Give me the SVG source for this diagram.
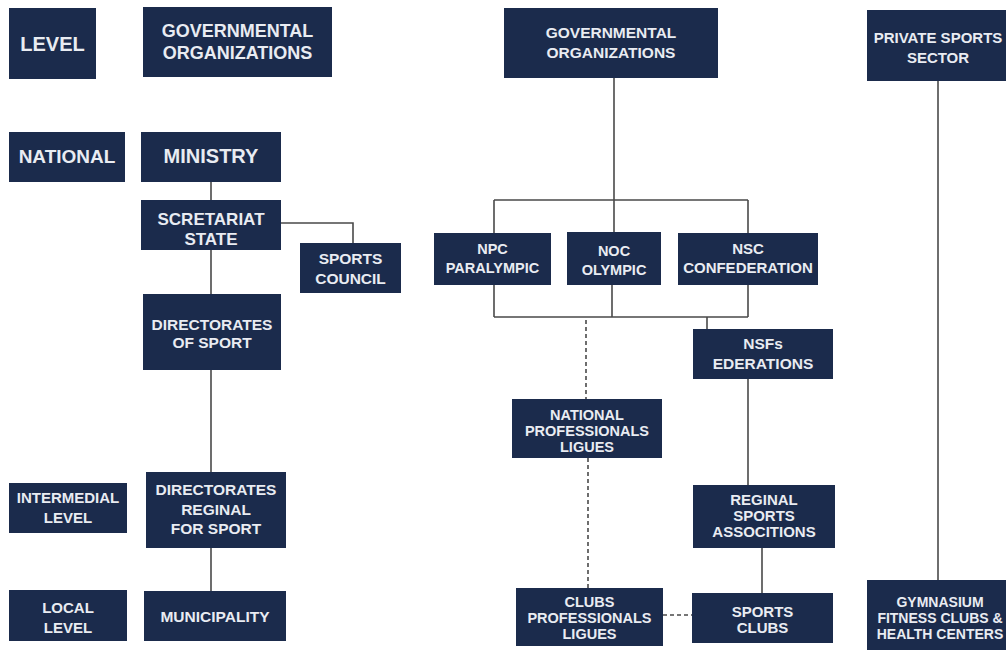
<svg xmlns="http://www.w3.org/2000/svg" width="1006" height="650" viewBox="0 0 1006 650">
<style>
.box{fill:#1b2b4c}
.t{fill:#e9ecf2;font-family:"Liberation Sans",Arial,sans-serif;font-weight:bold;text-anchor:middle}
.ln{stroke:#4a4a4a;stroke-width:1.6;fill:none}
.dl{stroke:#4a4a4a;stroke-width:1.6;fill:none;stroke-dasharray:4 3}
</style>
<rect width="1006" height="650" fill="#ffffff"/>
<g id="connectors">
<path class="ln" d="M211 182V200M211 250V294M211 370V472M211 548V591"/>
<path class="ln" d="M281 223H353V243"/>
<path class="ln" d="M614 78V200M494 200H748M494 200V233M614 200V232M748 200V233"/>
<path class="ln" d="M494 285V317M612 285V317M748 285V317M494 317H748M707 317V329"/>
<path class="ln" d="M748 379V485M762 548V593"/>
<path class="dl" d="M586 320V399M588 458V588M663 615H692"/>
<path class="ln" d="M938 81V580"/>
</g>
<g id="level"><rect class="box" x="9" y="8" width="87" height="71"/><text class="t" font-size="20" x="52.5" y="51">LEVEL</text></g>
<g id="gov-left"><rect class="box" x="143" y="7" width="189" height="70"/><text class="t" font-size="18" x="237.5" y="37">GOVERNMENTAL</text><text class="t" font-size="18" x="237.5" y="59">ORGANIZATIONS</text></g>
<g id="national"><rect class="box" x="9" y="132" width="116" height="50"/><text class="t" font-size="19" x="67" y="163">NATIONAL</text></g>
<g id="ministry"><rect class="box" x="141" y="132" width="140" height="50"/><text class="t" font-size="20" x="211" y="163">MINISTRY</text></g>
<g id="secretariat"><rect class="box" x="141" y="200" width="140" height="50"/><text class="t" font-size="17" x="211" y="225">SCRETARIAT</text><text class="t" font-size="17" x="211" y="245">STATE</text></g>
<g id="sports-council"><rect class="box" x="300" y="243" width="101" height="50"/><text class="t" font-size="15.5" x="350.5" y="264">SPORTS</text><text class="t" font-size="15.5" x="350.5" y="284">COUNCIL</text></g>
<g id="directorates"><rect class="box" x="143" y="294" width="138" height="76"/><text class="t" font-size="15.5" x="212" y="330">DIRECTORATES</text><text class="t" font-size="15.5" x="212" y="348">OF SPORT</text></g>
<g id="intermedial"><rect class="box" x="9" y="483" width="118" height="50"/><text class="t" font-size="15" x="68" y="503">INTERMEDIAL</text><text class="t" font-size="15" x="68" y="523">LEVEL</text></g>
<g id="directorates-reginal"><rect class="box" x="146" y="472" width="140" height="76"/><text class="t" font-size="15.5" x="216" y="495">DIRECTORATES</text><text class="t" font-size="15.5" x="216" y="515">REGINAL</text><text class="t" font-size="15.5" x="216" y="534">FOR SPORT</text></g>
<g id="local"><rect class="box" x="9" y="590" width="118" height="51"/><text class="t" font-size="15" x="68" y="613">LOCAL</text><text class="t" font-size="15" x="68" y="633">LEVEL</text></g>
<g id="municipality"><rect class="box" x="144" y="591" width="142" height="50"/><text class="t" font-size="15.5" x="215" y="622">MUNICIPALITY</text></g>
<g id="gov-mid"><rect class="box" x="504" y="8" width="214" height="70"/><text class="t" font-size="15.5" x="611" y="38">GOVERNMENTAL</text><text class="t" font-size="15.5" x="611" y="58">ORGANIZATIONS</text></g>
<g id="npc"><rect class="box" x="434" y="233" width="117" height="52"/><text class="t" font-size="14.5" x="492.5" y="254">NPC</text><text class="t" font-size="14.5" x="492.5" y="273">PARALYMPIC</text></g>
<g id="noc"><rect class="box" x="567" y="232" width="94" height="53"/><text class="t" font-size="14.5" x="614" y="256">NOC</text><text class="t" font-size="14.5" x="614" y="275">OLYMPIC</text></g>
<g id="nsc"><rect class="box" x="678" y="233" width="140" height="52"/><text class="t" font-size="15" x="748" y="254">NSC</text><text class="t" font-size="15" x="748" y="273">CONFEDERATION</text></g>
<g id="nsfs"><rect class="box" x="693" y="329" width="140" height="50"/><text class="t" font-size="15.5" x="763" y="349">NSFs</text><text class="t" font-size="15.5" x="763" y="369">EDERATIONS</text></g>
<g id="national-prof"><rect class="box" x="512" y="399" width="150" height="59"/><text class="t" font-size="14.5" x="587" y="420">NATIONAL</text><text class="t" font-size="14.5" x="587" y="436">PROFESSIONALS</text><text class="t" font-size="14.5" x="587" y="452">LIGUES</text></g>
<g id="reginal-sports"><rect class="box" x="693" y="485" width="142" height="63"/><text class="t" font-size="15" x="764" y="505">REGINAL</text><text class="t" font-size="15" x="764" y="521">SPORTS</text><text class="t" font-size="15" x="764" y="537">ASSOCITIONS</text></g>
<g id="clubs-prof"><rect class="box" x="516" y="588" width="147" height="58"/><text class="t" font-size="14.5" x="589.5" y="607">CLUBS</text><text class="t" font-size="14.5" x="589.5" y="623">PROFESSIONALS</text><text class="t" font-size="14.5" x="589.5" y="638.5">LIGUES</text></g>
<g id="sports-clubs"><rect class="box" x="692" y="593" width="141" height="50"/><text class="t" font-size="15" x="762.5" y="617">SPORTS</text><text class="t" font-size="15" x="762.5" y="633">CLUBS</text></g>
<g id="private"><rect class="box" x="867" y="10" width="145" height="71"/><text class="t" font-size="15" x="938" y="43">PRIVATE SPORTS</text><text class="t" font-size="15" x="938" y="63">SECTOR</text></g>
<g id="gymnasium"><rect class="box" x="867" y="580" width="150" height="75"/><text class="t" font-size="14" x="940" y="607">GYMNASIUM</text><text class="t" font-size="14" x="940" y="623">FITNESS CLUBS &amp;</text><text class="t" font-size="14" x="940" y="639">HEALTH CENTERS</text></g>
</svg>
